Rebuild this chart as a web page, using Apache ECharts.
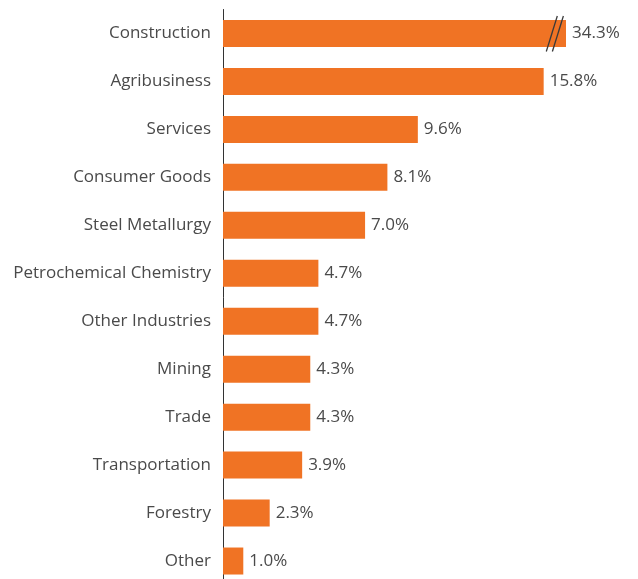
<!DOCTYPE html>
<html>
<head>
<meta charset="utf-8">
<script src="https://cdn.jsdelivr.net/npm/echarts@6/dist/echarts.min.js"></script>
<style>
  html, body { margin: 0; padding: 0; background: #ffffff; overflow: hidden; }
  #chart { width: 638px; height: 590px; }
</style>
</head>
<body>
<div id="chart"></div>
<script>
// Share of companies by sector (%)
const sectors = [
  'Construction', 'Agribusiness', 'Services', 'Consumer Goods',
  'Steel Metallurgy', 'Petrochemical Chemistry', 'Other Industries',
  'Mining', 'Trade', 'Transportation', 'Forestry', 'Other'
];
const shares = [34.3, 15.8, 9.6, 8.1, 7.0, 4.7, 4.7, 4.3, 4.3, 3.9, 2.3, 1.0];

// The value axis is cut between these two values so the first bar fits
const breakStart = 16.2;
const breakEnd = 33.9;

const barColor = '#F07324';
const textColor = '#4a4a4a';
const fontFamily = '"Open Sans", "Noto Sans", sans-serif';

const chart = echarts.init(document.getElementById('chart'), null, { renderer: 'canvas' });

chart.setOption({
  animation: false,
  backgroundColor: '#ffffff',
  // the last row runs slightly past the bottom edge of the page
  grid: { left: 223, right: 72, top: 9.5, height: 575.5, containLabel: false },
  xAxis: {
    type: 'value',
    min: 0,
    max: 34.3,
    axisLine: { show: false },
    axisTick: { show: false },
    axisLabel: { show: false },
    splitLine: { show: false },
    breaks: [{ start: breakStart, end: breakEnd, gap: 0.3 }],
    breakArea: { show: false }
  },
  yAxis: {
    type: 'category',
    data: sectors,
    inverse: true,
    axisLine: { show: true, lineStyle: { color: '#333333', width: 1 } },
    axisTick: { show: false },
    axisLabel: {
      margin: 12,
      color: textColor,
      fontSize: 17,
      fontFamily: fontFamily
    }
  },
  series: [{
    type: 'bar',
    data: shares,
    barWidth: 27,
    itemStyle: { color: barColor },
    label: {
      show: true,
      position: 'right',
      distance: 6,
      color: textColor,
      fontSize: 17,
      fontFamily: fontFamily,
      formatter: p => p.value.toFixed(1) + '%'
    }
  }]
});

// Double slash marking where the first bar crosses the axis break
function drawBreakMarks() {
  const y = chart.convertToPixel({ yAxisIndex: 0 }, sectors[0]);
  const xs = [
    chart.convertToPixel({ xAxisIndex: 0 }, breakStart),
    chart.convertToPixel({ xAxisIndex: 0 }, breakEnd)
  ];
  chart.setOption({
    graphic: xs.map((x, i) => ({
      id: 'slash' + i,
      type: 'line',
      z: 100,
      shape: { x1: x - 5.5, y1: y + 18, x2: x + 5.5, y2: y - 17.5 },
      style: { stroke: '#3a3a3a', lineWidth: 1.3 }
    }))
  });
}
drawBreakMarks();
</script>
</body>
</html>
